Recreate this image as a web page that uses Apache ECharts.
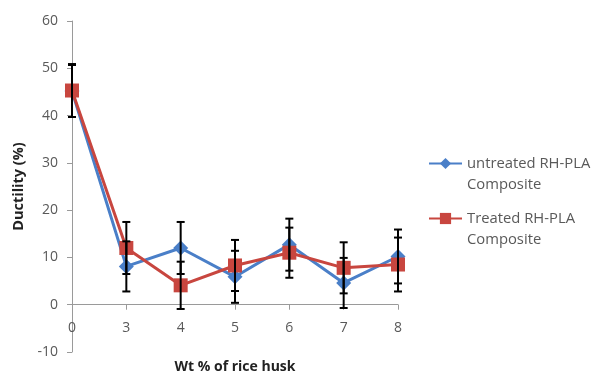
<!DOCTYPE html>
<html><head><meta charset="utf-8">
<script src="https://cdn.jsdelivr.net/npm/echarts@6/dist/echarts.min.js"></script>
<style>html,body{margin:0;padding:0;background:#fff}#c{width:593px;height:375px}</style>
</head><body><div id="c"></div>
<script>
var categories = ['0','3','4','5','6','7','8'];
var untreated = [45.2, 8.1, 12.0, 5.9, 12.7, 4.6, 10.2];
var treated = [45.3, 12.0, 4.1, 8.3, 11.0, 7.8, 8.5];
var untreatedErr = [5.5, 5.3, 5.5, 5.5, 5.5, 5.3, 5.7];
var treatedErr = [5.6, 5.5, 5.0, 5.4, 5.3, 5.4, 5.7];
var yTicks = {min: -10, max: 60, interval: 10};
var seriesNames = ['untreated RH-PLA\nComposite', 'Treated RH-PLA\nComposite'];

function errData(vals, errs){
  return vals.map(function(v,i){ return [i, v - errs[i], v + errs[i]]; });
}
function renderErr(params, api){
  var x = api.value(0);
  var lo = api.coord([x, api.value(1)]);
  var hi = api.coord([x, api.value(2)]);
  var w = 4;
  var st = {stroke:'#000', lineWidth:2};
  return {type:'group', children:[
    {type:'line', shape:{x1:lo[0],y1:lo[1],x2:hi[0],y2:hi[1]}, style:st},
    {type:'line', shape:{x1:lo[0]-w,y1:lo[1],x2:lo[0]+w,y2:lo[1]}, style:st},
    {type:'line', shape:{x1:hi[0]-w,y1:hi[1],x2:hi[0]+w,y2:hi[1]}, style:st}
  ]};
}
var blue = '#4a7fc8', red = '#c8463f', gray = '#595959', axisC = '#9a9a9a';
var chart = echarts.init(document.getElementById('c'), null, {renderer:'canvas'});
chart.setOption({
  animation:false,
  textStyle:{fontFamily:'Open Sans'},
  grid:{left:72, right:195, top:21, bottom:23, containLabel:false, outerBoundsMode:'none'},
  legend:{
    orient:'vertical', left:423, top:127, itemWidth:33, itemHeight:14, itemGap:-8,
    data:[seriesNames[0], seriesNames[1]],
    formatter:function(n){ return '\n' + n; },
    textStyle:{fontSize:14.8, color:gray, lineHeight:21}
  },
  xAxis:{
    type:'category', data:categories, boundaryGap:false,
    name:'Wt % of rice husk', nameLocation:'middle', nameGap:8, nameMoveOverlap:false,
    nameTextStyle:{fontSize:14, fontWeight:'bold', color:'#222'},
    axisLine:{onZero:true, lineStyle:{color:axisC, width:1}},
    axisTick:{show:true, length:5, alignWithLabel:true, lineStyle:{color:axisC}},
    axisLabel:{fontSize:14, color:gray, margin:-31}
  },
  yAxis:{
    type:'value', min:yTicks.min, max:yTicks.max, interval:yTicks.interval,
    name:'Ductility (%)', nameLocation:'middle', nameGap:45,
    nameTextStyle:{fontSize:14.5, fontWeight:'bold', color:'#222'},
    axisLine:{show:true, lineStyle:{color:axisC, width:1}},
    axisTick:{show:true, length:5, lineStyle:{color:axisC}},
    axisLabel:{fontSize:14, color:gray, margin:14},
    splitLine:{show:false}
  },
  series:[
    {name:seriesNames[0], type:'line', data:untreated, color:blue,
     symbol:'diamond', symbolSize:15, lineStyle:{width:3, color:blue},
     itemStyle:{color:blue}, z:2},
    {name:seriesNames[1], type:'line', data:treated, color:red,
     symbol:'rect', symbolSize:14, lineStyle:{width:3, color:red},
     itemStyle:{color:red}, z:3},
    {type:'custom', renderItem:renderErr, data:errData(untreated, untreatedErr),
     encode:{x:0, y:[1,2]}, z:4, silent:true},
    {type:'custom', renderItem:renderErr, data:errData(treated, treatedErr),
     encode:{x:0, y:[1,2]}, z:4, silent:true}
  ]
});
</script></body></html>
